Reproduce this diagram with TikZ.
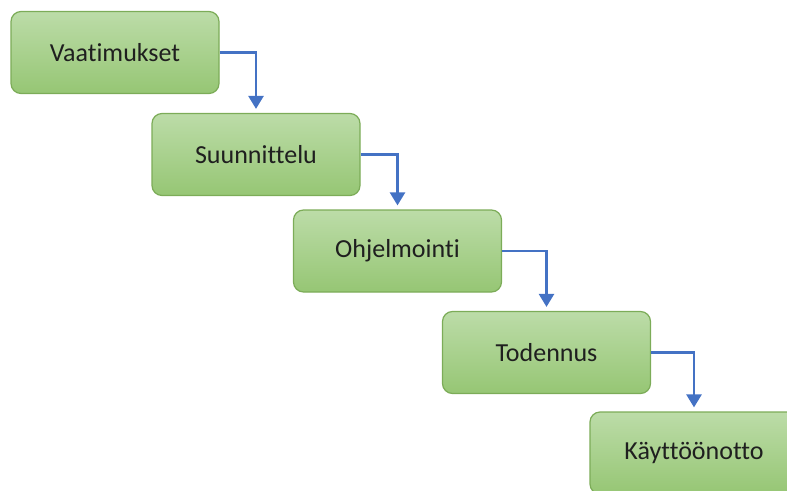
\documentclass[tikz,border=0pt]{standalone}
\usepackage{fontspec}
\setmainfont{Carlito}[Ligatures=NoCommon]
\usetikzlibrary{arrows.meta}
\definecolor{boxtop}{RGB}{188,220,168}
\definecolor{boxbot}{RGB}{150,198,116}
\definecolor{boxline}{RGB}{124,172,88}
\definecolor{flow}{RGB}{68,114,196}
\tikzset{
  stage/.style={rectangle, rounded corners=10pt, draw=boxline, line width=1.2pt,
    top color=boxtop, bottom color=boxbot,
    minimum width=208pt, minimum height=82pt,
    font=\fontsize{26}{30}\selectfont, text=black!88},
  flowarrow/.style={draw=flow, line width=2.6pt,
    -{Triangle[width=15pt,length=13pt]}, shorten >=4pt}
}
\begin{document}
\begin{tikzpicture}[x=1pt, y=-1pt]
  \useasboundingbox (0,0) rectangle (787,490);
  \clip (0,0) rectangle (787,490);
  \node[stage] (req)  at (115,52.5)  {Vaatimukset};
  \node[stage] (des)  at (256,154.5) {Suunnittelu};
  \node[stage] (impl) at (397.5,251) {Ohjelmointi};
  \node[stage] (test) at (546.5,352.5) {Todennus};
  \node[stage] (dep)  at (694,453)   {Käyttöönotto};
  \draw[flowarrow] (req.east)  -| (des.north);
  \draw[flowarrow] (des.east)  -| (impl.north);
  \draw[flowarrow] (impl.east) -| (test.north);
  \draw[flowarrow] (test.east) -| (dep.north);
\end{tikzpicture}
\end{document}
